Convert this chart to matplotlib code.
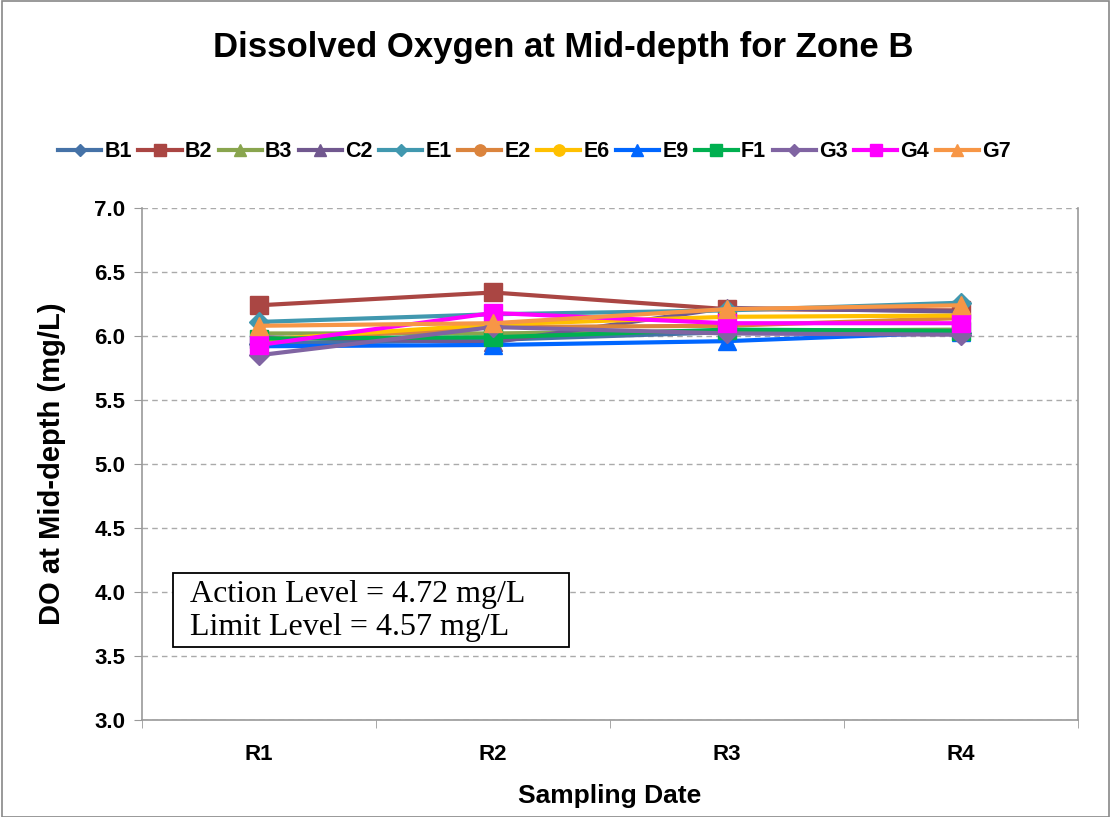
import matplotlib.pyplot as plt
from matplotlib.patches import Rectangle

plt.rcParams['font.family'] = ['Liberation Sans', 'DejaVu Sans']

# 数据
dates = ["R1", "R2", "R3", "R4"]
stations = ["B1", "B2", "B3", "C2", "E1", "E2", "E6", "E9", "F1", "G3", "G4", "G7"]
do_values = {
    "B1": [5.94, 5.97, 6.03, 6.02],
    "B2": [6.24, 6.34, 6.21, 6.20],
    "B3": [6.02, 6.02, 6.04, 6.05],
    "C2": [5.99, 5.95, 6.22, 6.19],
    "E1": [6.11, 6.17, 6.20, 6.26],
    "E2": [5.96, 6.07, 6.08, 6.14],
    "E6": [5.97, 6.09, 6.15, 6.16],
    "E9": [5.92, 5.93, 5.96, 6.03],
    "F1": [5.98, 5.99, 6.05, 6.04],
    "G3": [5.85, 6.07, 6.02, 6.01],
    "G4": [5.93, 6.18, 6.10, 6.10],
    "G7": [6.08, 6.10, 6.21, 6.24],
}

colors = {
    "B1": "#4572A7", "B2": "#AA4643", "B3": "#89A54E", "C2": "#71588F",
    "E1": "#4198AF", "E2": "#DB843D", "E6": "#FFC000", "E9": "#0066FF",
    "F1": "#00B050", "G3": "#8064A2", "G4": "#FF00FF", "G7": "#F79646",
}
markers = {
    "B1": "D", "B2": "s", "B3": "^", "C2": "^", "E1": "D", "E2": "o",
    "E6": "o", "E9": "^", "F1": "s", "G3": "D", "G4": "s", "G7": "^",
}

fig = plt.figure(figsize=(11.11, 8.17), dpi=100)
ax = fig.add_axes([0.1278, 0.1187, 0.8425, 0.6267])

x = range(len(dates))
for s in stations:
    m = markers[s]
    ms = 10 if m == "D" else 12.5
    ax.plot(x, do_values[s], color=colors[s], marker=m, markersize=ms,
            linewidth=3, label=s)

ax.set_xlim(-0.5, 3.5)
ax.set_ylim(3.0, 7.0)
ax.set_yticks([3.0 + 0.5 * i for i in range(9)])
ax.set_yticklabels([f"{3.0 + 0.5 * i:.1f}" for i in range(9)], fontsize=16, fontweight='bold')
ax.set_xticks(list(x))
ax.set_xticklabels(dates, fontsize=16, fontweight='bold')
ax.set_xticks([-0.5, 0.5, 1.5, 2.5, 3.5], minor=True)
ax.tick_params(axis='x', which='major', length=0, pad=17)
ax.tick_params(axis='x', which='minor', length=6, color='#999999')
ax.tick_params(axis='y', length=6, color='#999999', pad=6)
ax.yaxis.grid(True, linestyle=(0, (4, 3)), color='#AAAAAA', linewidth=1)
ax.set_axisbelow(True)
for side in ['left', 'bottom', 'right']:
    ax.spines[side].set_color('#999999')
    ax.spines[side].set_linewidth(1.2)
ax.spines['top'].set_visible(False)

ax.set_ylabel("DO at Mid-depth (mg/L)", fontsize=21, fontweight='bold', labelpad=20)
ax.set_xlabel("Sampling Date", fontsize=19, fontweight='bold', labelpad=14)

fig.text(0.507, 0.942, "Dissolved Oxygen at Mid-depth for Zone B", ha='center', va='center',
         fontsize=25, fontweight='bold')

leg = fig.legend(loc='center', bbox_to_anchor=(0.481, 0.814), ncol=12, frameon=False,
                 prop={'weight': 'bold', 'size': 15.5}, handlelength=2.0, columnspacing=0.3,
                 handletextpad=0.15, markerscale=0.65)

# 标注框
ax.add_patch(Rectangle((0.0331, 0.1426), 0.4231, 0.1445, transform=ax.transAxes,
                       facecolor='white', edgecolor='black', linewidth=1.3, zorder=5))
ax.text(0.0513, 0.213, "Action Level = 4.72 mg/L\nLimit Level = 4.57 mg/L",
        transform=ax.transAxes, fontsize=23, family=['Liberation Serif', 'DejaVu Serif'],
        va='center', ha='left', linespacing=1.22, zorder=6)

fig.patches.append(Rectangle((0.002, 0.0), 0.996, 0.999, transform=fig.transFigure,
                             fill=False, edgecolor='#888888', linewidth=1.2))

plt.savefig("out.png", dpi=100)
